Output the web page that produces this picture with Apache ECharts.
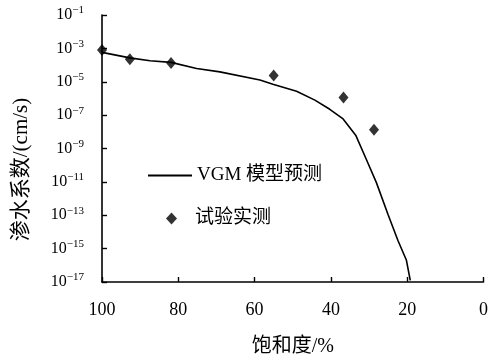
<!DOCTYPE html>
<html>
<head>
<meta charset="utf-8">
<script src="https://cdn.jsdelivr.net/npm/echarts@6/dist/echarts.min.js"></script>
<style>
  html, body { margin: 0; padding: 0; background: #fff; }
  #chart { width: 491px; height: 362px; }
</style>
</head>
<body>
<div id="chart"></div>
<script>
// Saturation (%) and log10 of permeability coefficient (cm/s)
const modelSaturation = [100, 92.7, 87.4, 81.9, 75.2, 69.1, 58.6, 55.2, 49, 44.2, 40.3, 36.8, 33.5, 30.7, 28.1, 25.0, 22.4, 20.2, 19.2];
const modelLogK       = [-3.24, -3.57, -3.74, -3.84, -4.21, -4.41, -4.89, -5.15, -5.57, -6.1, -6.65, -7.23, -8.2, -9.66, -11.03, -12.97, -14.53, -15.7, -16.9];

const testSaturation = [100, 92.7, 81.9, 55.0, 36.7, 28.7];
const testLogK       = [-3.1, -3.65, -3.88, -4.62, -5.95, -7.87];

const xTicks = [0, 20, 40, 60, 80, 100];
const yExponents = [-17, -15, -13, -11, -9, -7, -5, -3, -1];

const serif = '"Liberation Serif", "Times New Roman", "Noto Sans CJK SC", serif';
const legendText = { fontFamily: serif, fontSize: 19, color: '#000' };

const chart = echarts.init(document.getElementById('chart'), null, { renderer: 'canvas' });

chart.setOption({
  animation: false,
  backgroundColor: '#fff',
  grid: { left: 102, right: 7, top: 15, bottom: 73 },
  legend: [
    {
      left: 143,
      top: 161,
      itemWidth: 44,
      itemHeight: 2,
      itemGap: 0,
      textStyle: legendText,
      data: [{ name: 'VGM 模型预测', icon: 'rect' }]
    },
    {
      left: 161,
      top: 204,
      itemWidth: 11,
      itemHeight: 12,
      textStyle: Object.assign({ padding: [0, 0, 0, 13] }, legendText),
      data: [{ name: '试验实测', icon: 'diamond' }]
    }
  ],
  xAxis: {
    type: 'value',
    inverse: true,
    min: xTicks[0],
    max: xTicks[xTicks.length - 1],
    interval: 20,
    name: '饱和度/%',
    nameLocation: 'middle',
    nameGap: 55,
    nameTextStyle: { fontFamily: serif, fontSize: 20, color: '#000' },
    axisLine: { onZero: false, lineStyle: { color: '#000', width: 1.6 } },
    axisTick: { inside: true, length: 5, lineStyle: { color: '#000', width: 1.4 } },
    axisLabel: { margin: 19, fontFamily: serif, fontSize: 18, color: '#000' },
    splitLine: { show: false }
  },
  yAxis: {
    type: 'value',
    min: yExponents[0],
    max: yExponents[yExponents.length - 1],
    interval: 2,
    name: '渗水系数/(cm/s)',
    nameLocation: 'middle',
    nameGap: 70,
    nameTextStyle: { fontFamily: serif, fontSize: 21, color: '#000', padding: [0, 42, 0, 0] },
    axisLine: { show: true, onZero: false, lineStyle: { color: '#000', width: 1.6 } },
    axisTick: { inside: true, length: 5, lineStyle: { color: '#000', width: 1.4 } },
    axisLabel: {
      margin: 18,
      formatter: v => '{b|10}{s|' + String(v).replace('-', '\u2212') + '}',
      rich: {
        b: { fontFamily: serif, fontSize: 16, color: '#000', lineHeight: 20 },
        s: { fontFamily: serif, fontSize: 11, color: '#000', padding: [0, 0, 9, 0] }
      }
    },
    splitLine: { show: false }
  },
  series: [
    {
      name: 'VGM 模型预测',
      type: 'line',
      symbol: 'none',
      smooth: false,
      lineStyle: { color: '#000', width: 1.6 },
      itemStyle: { color: '#000' },
      data: modelSaturation.map((s, i) => [s, modelLogK[i]]),
      z: 2
    },
    {
      name: '试验实测',
      type: 'scatter',
      symbol: 'diamond',
      symbolSize: [10, 12],
      itemStyle: { color: '#000' },
      data: testSaturation.map((s, i) => [s, testLogK[i]]),
      z: 3
    }
  ]
});
</script>
</body>
</html>
